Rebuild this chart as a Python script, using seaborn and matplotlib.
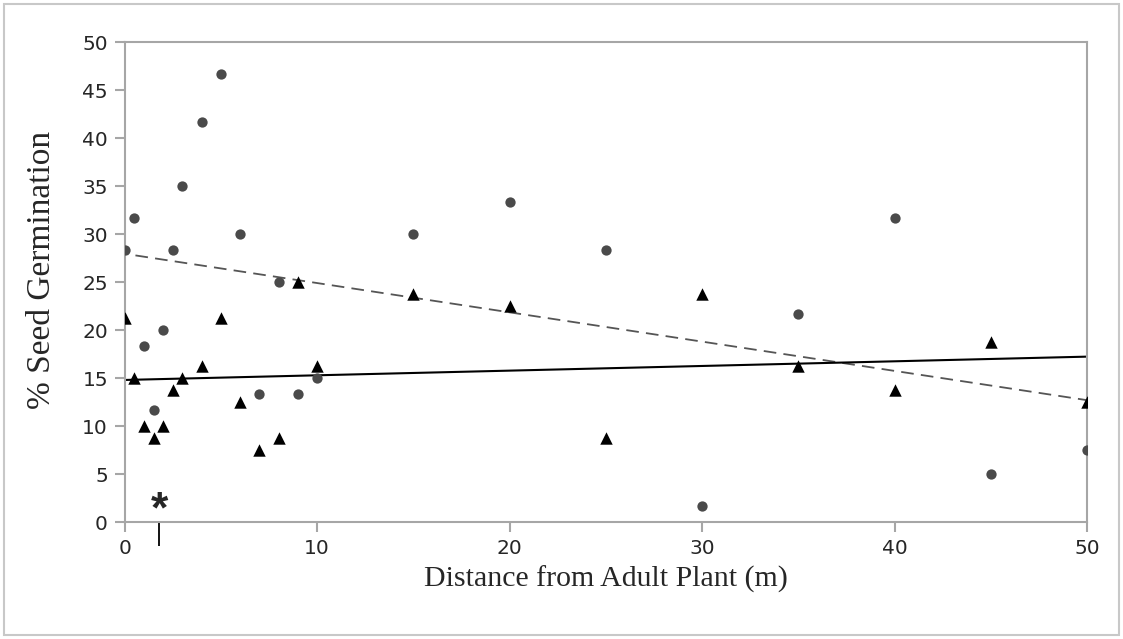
import matplotlib
matplotlib.use("Agg")
import matplotlib.pyplot as plt
import seaborn as sns
import numpy as np
from matplotlib.patches import Rectangle

# distances (m)
distance = [0, 0.5, 1, 1.5, 2, 2.5, 3, 4, 5, 6, 7, 8, 9, 10, 15, 20, 25, 30, 35, 40, 45, 50]

# circles (grey)
germ_circle = [28.3, 31.7, 18.3, 11.7, 20.0, 28.3, 35.0, 41.7, 46.7, 30.0, 13.3,
               25.0, 13.3, 15.0, 30.0, 33.3, 28.3, 1.7, 21.7, 31.7, 5.0, 7.5]

# triangles (black)
germ_triangle = [21.25, 15.0, 10.0, 8.75, 10.0, 13.75, 15.0, 16.25, 21.25, 12.5, 7.5,
                 8.75, 25.0, 16.25, 23.75, 22.5, 8.75, 23.75, 16.25, 13.75, 18.75, 12.5]

xticks = [0, 10, 20, 30, 40, 50]
yticks = [0, 5, 10, 15, 20, 25, 30, 35, 40, 45, 50]
star_x = 1.8

sns.set_style("white")

fig = plt.figure(figsize=(11.23, 6.39), dpi=100)
ax = fig.add_axes([0.111, 0.183, 0.857, 0.751])

sns.regplot(x=distance, y=germ_circle, ax=ax, ci=None, truncate=False, marker="o",
            scatter_kws=dict(s=55, color="#4a4a4a", alpha=1, linewidths=0, zorder=3),
            line_kws=dict(color="#555555", linestyle=(0, (7, 4)), linewidth=1.3))
sns.regplot(x=distance, y=germ_triangle, ax=ax, ci=None, truncate=False, marker="^",
            scatter_kws=dict(s=80, color="black", alpha=1, linewidths=0, zorder=3),
            line_kws=dict(color="black", linestyle="-", linewidth=1.5))

ax.set_xlim(0, 50)
ax.set_ylim(0, 50)
ax.set_xticks(xticks)
ax.set_yticks(yticks)
ax.set_xticks([star_x], minor=True)

for sp in ax.spines.values():
    sp.set_color("#a6a6a6")
    sp.set_linewidth(1.5)

ax.tick_params(which="major", direction="out", length=7, width=1.5, color="#a6a6a6",
               labelsize=14.5, pad=5, bottom=True, left=True)
ax.tick_params(which="minor", axis="x", direction="out", length=17, width=1.3,
               color="black", bottom=True)
for lab in ax.get_xticklabels() + ax.get_yticklabels():
    lab.set_family("DejaVu Sans")

ax.text(star_x, 1.2, "*", ha="center", va="center", fontsize=32, fontweight="bold",
        family="Liberation Sans")

ax.set_xlabel("Distance from Adult Plant (m)", family="Liberation Serif", fontsize=21.5,
              labelpad=6)
ax.set_ylabel("% Seed Germination", family="Liberation Serif", fontsize=24, labelpad=10)
ax.yaxis.set_label_coords(-0.07, 0.525)

fig.patches.append(Rectangle((0.004, 0.006), 0.992, 0.988, transform=fig.transFigure,
                             fill=False, edgecolor="#c8c8c8", linewidth=1.5))

fig.savefig("out.png", dpi=100)
